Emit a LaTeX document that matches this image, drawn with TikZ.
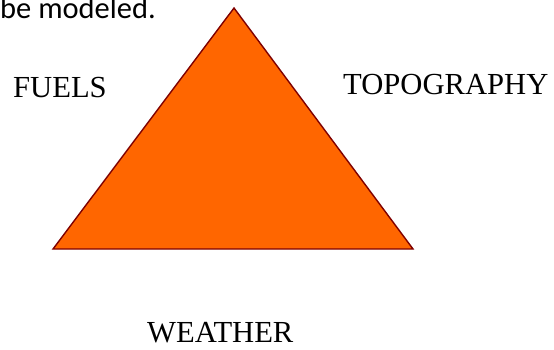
\documentclass[tikz,border=0pt]{standalone}
\usepackage{fontspec}
\setmainfont{Liberation Serif}
\newfontfamily\bodyfont{Carlito}
\usepackage{xcolor}
\definecolor{fireorange}{HTML}{FF6600}
\definecolor{firerim}{HTML}{7F0000}

\begin{document}
\begin{tikzpicture}[x=1pt, y=-1pt,
  corner/.style={inner sep=0pt, anchor=base west, font=\fontsize{30.6}{36}\selectfont}]
\useasboundingbox (0,0) rectangle (554,349);
\coordinate (apex) at (234, 8);
\coordinate (left) at (53, 249);
\coordinate (right) at (413, 249);
\filldraw[fill=fireorange, draw=firerim, line width=1.4pt, line join=miter] (apex) -- (right) -- (left) -- cycle;
\node[inner sep=0pt, anchor=base west, font=\bodyfont\fontsize{30.5}{36}\selectfont] (intro) at (0, 18) {be modeled.};
\node[corner] (fuels) at (13, 97) {FUELS};
\node[corner] (topo) at (343, 94) {TOPOGRAPHY};
\node[corner] (weather) at (147, 342) {WEATHER};
\end{tikzpicture}
\end{document}
